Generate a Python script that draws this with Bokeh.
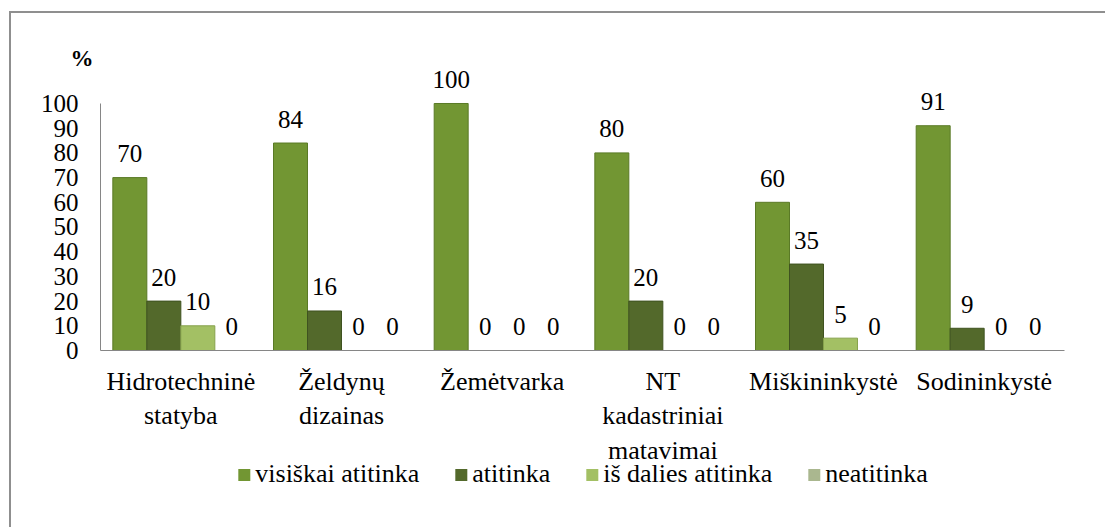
from bokeh.plotting import figure
from bokeh.layouts import column
from bokeh.models import (ColumnDataSource, FactorRange, Range1d, Legend, LegendItem,
                          FixedTicker)
from bokeh.transform import dodge
from bokeh.core.properties import value
from bokeh.embed import file_html
from bokeh.resources import INLINE

categories = ["Hidrotechninė\nstatyba", "Želdynų\ndizainas", "Žemėtvarka",
              "NT\nkadastriniai\nmatavimai", "Miškininkystė", "Sodininkystė"]
series_names = ["visiškai atitinka", "atitinka", "iš dalies atitinka", "neatitinka"]
visiskai = [70, 84, 100, 80, 60, 91]
atitinka = [20, 16, 0, 20, 35, 9]
is_dalies = [10, 0, 0, 0, 5, 0]
neatitinka = [0, 0, 0, 0, 0, 0]
y_ticks = [0, 10, 20, 30, 40, 50, 60, 70, 80, 90, 100]

series = [visiskai, atitinka, is_dalies, neatitinka]
fills = ["#729633", "#53692b", "#a3c064", "#aab78f"]
lines = ["#5a7a26", "#3f5220", "#86a24c", "#8d9a74"]

FONT = "Liberation Serif"
W = 1094

p = figure(x_range=FactorRange(*categories, range_padding=0),
           y_range=Range1d(0, 113.36),
           width=W, height=455, output_backend="svg", toolbar_location=None,
           min_border_left=89, min_border_right=41, min_border_top=57,
           min_border_bottom=118, title="%")
p.outline_line_color = None
p.background_fill_color = "white"
p.border_fill_color = "white"
p.xgrid.visible = False
p.ygrid.visible = False
p.title.align = "left"
p.title.offset = -30
p.title.standoff = 0
p.title.text_font = FONT
p.title.text_font_size = "23px"
p.title.text_font_style = "bold"
p.title.text_color = "black"

bw = 0.2116
offsets = [-1.5 * bw, -0.5 * bw, 0.5 * bw, 1.5 * bw]
sources = []
for name, vals, fc, lc, off in zip(series_names, series, fills, lines, offsets):
    src = ColumnDataSource(dict(cat=categories, val=vals, lbl=[str(v) for v in vals]))
    sources.append(src)
    p.vbar(x=dodge("cat", off, range=p.x_range), top="val", width=bw, source=src,
           fill_color=fc, line_color=lc, line_width=1)
    p.text(x=dodge("cat", off, range=p.x_range), y="val", text="lbl", source=src,
           text_font=value(FONT), text_font_size="25px", text_color="black",
           text_align="center", text_baseline="alphabetic", y_offset=-24)

yax = p.yaxis[0]
yax.ticker = FixedTicker(ticks=y_ticks)
yax.bounds = (0, 100)
yax.major_tick_out = 0
yax.major_tick_in = 0
yax.minor_tick_out = 0
yax.minor_tick_in = 0
yax.axis_line_color = "#868686"
yax.major_label_standoff = 22
yax.major_label_text_font = FONT
yax.major_label_text_font_size = "25px"
yax.major_label_text_color = "black"

xax = p.xaxis[0]
xax.major_tick_out = 0
xax.major_tick_in = 0
xax.axis_line_color = "#868686"
xax.major_label_standoff = 16
xax.major_label_text_font = FONT
xax.major_label_text_font_size = "26px"
xax.major_label_text_color = "black"

# legend strip below the chart (its bars lie far outside the visible y range)
lf = figure(width=W, height=72, x_range=FactorRange(*categories),
            y_range=Range1d(1000, 1001),
            output_backend="svg", toolbar_location=None,
            x_axis_type=None, y_axis_type=None,
            min_border_left=89, min_border_right=41, min_border_top=0, min_border_bottom=0)
lf.outline_line_color = None
lf.background_fill_color = None
lf.border_fill_color = None
lf.xgrid.visible = False
lf.ygrid.visible = False
lf.margin = (-13, 0, 0, 0)
items = []
for name, src, fc in zip(series_names, sources, fills):
    r = lf.vbar(x="cat", top="val", width=0.2, source=src, fill_color=fc, line_color=None)
    items.append(LegendItem(label=name, renderers=[r]))
legend = Legend(items=items, orientation="horizontal", location="top_center",
                label_text_font=FONT, label_text_font_size="26px", label_text_color="black",
                glyph_width=15, glyph_height=15, label_standoff=4, spacing=34,
                padding=0, margin=4, border_line_color=None,
                background_fill_alpha=0)
lf.add_layout(legend)

layout = column(p, lf, spacing=0)
layout.margin = (11, 0, 0, 9)
layout.styles = {"border-top": "2px solid #8f8f8f", "border-left": "2px solid #8f8f8f"}

open("out.html", "w").write(file_html(layout, INLINE))
